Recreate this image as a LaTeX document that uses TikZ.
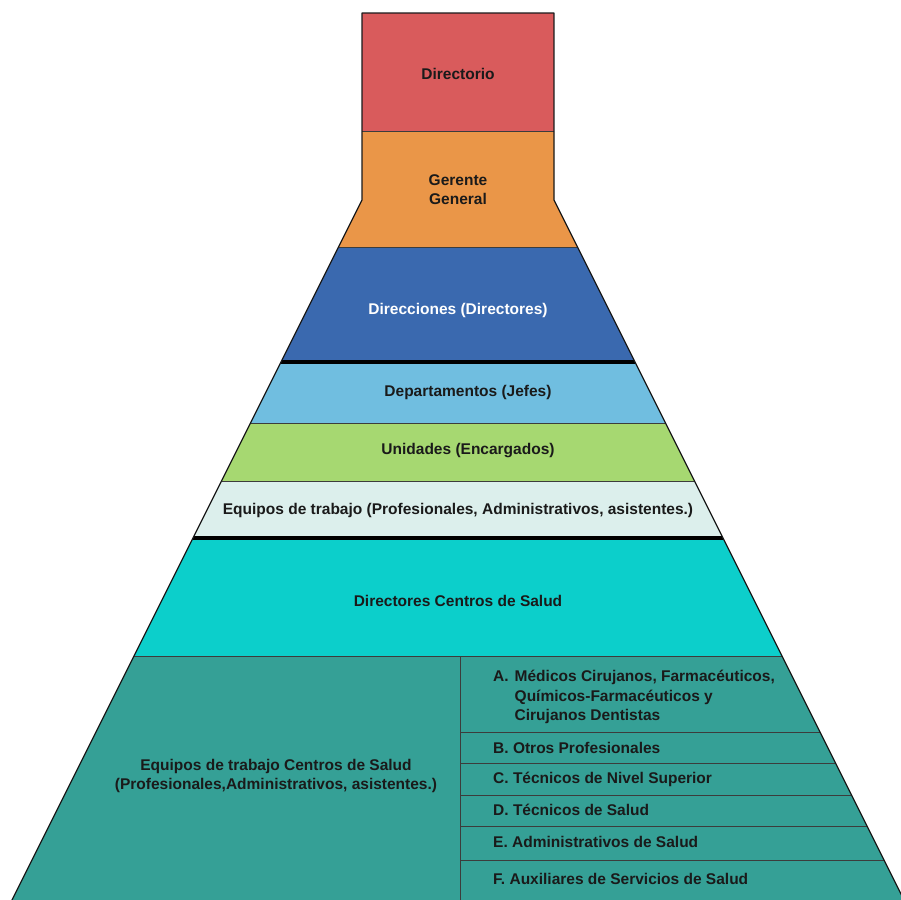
\documentclass[tikz,border=0pt]{standalone}
\usepackage{fontspec}
\setmainfont{Liberation Sans}
\usepackage{tikz}
\usetikzlibrary{calc}
\definecolor{rojo}{HTML}{D95B5C}
\definecolor{naranja}{HTML}{EA9648}
\definecolor{azul}{HTML}{3A69AF}
\definecolor{celeste}{HTML}{70BEE0}
\definecolor{verde}{HTML}{A6D871}
\definecolor{claro}{HTML}{DCEFEC}
\definecolor{turquesa}{HTML}{0CCFCB}
\definecolor{teal}{HTML}{35A096}
\definecolor{ink}{HTML}{1A1A1A}
\tikzset{
  edge/.style={draw=ink, line width=1.3pt, line join=round},
  sep/.style={draw=ink!85, line width=0.9pt},
  bar/.style={draw=black, line width=4pt},
  lab/.style={text=ink, font=\bfseries\fontsize{15.5}{19.5}\selectfont, align=center, inner sep=0pt},
  item/.style={lab, align=left, anchor=west},
}

\begin{document}
\begin{tikzpicture}[x=1pt, y=-1pt]
  \useasboundingbox (0,0) rectangle (901,899);
  \clip (0,0) rectangle (901,899);
  % top block
  \fill[rojo] (362,13) rectangle (554,131);
  \fill[naranja] (362,131) -- (554,131) -- (554,200) -- (577.5,247)
    -- (338.5,247) -- (362,200) -- cycle;
  % pyramid bands (sides: x = 462 - y/2 and x = 454 + y/2)
  \foreach \ya/\yb/\col in {247/362/azul, 362/423/celeste, 423/481/verde,
      481/538/claro, 538/656/turquesa, 656/905/teal}
    \fill[\col] ({462-0.5*\ya},\ya) -- ({454+0.5*\ya},\ya)
      -- ({454+0.5*\yb},\yb) -- ({462-0.5*\yb},\yb) -- cycle;
  % separators
  \draw[sep] (362,131) -- (554,131);
  \foreach \y in {247,423,481,656}
    \draw[sep] ({462-0.5*\y},\y) -- ({454+0.5*\y},\y);
  \foreach \y in {362,538}
    \draw[bar] ({462-0.5*\y},\y) -- ({454+0.5*\y},\y);
  \draw[sep] (460,656) -- (460,905);
  \foreach \y in {732,763,795,826,860}
    \draw[sep] (460,\y) -- ({454+0.5*\y},\y);
  % outline
  \draw[edge] (9.5,905) -- (362,200) -- (362,13) -- (554,13) -- (554,200) -- (906.5,905);
  % labels
  \node[lab] (dir) at (458,74) {Directorio};
  \node[lab] (ger) at (458,189.5) {Gerente\\General};
  \node[lab, text=white] (dirs) at (458,310) {Direcciones (Directores)};
  \node[lab] (dep) at (468,392) {Departamentos (Jefes)};
  \node[lab] (uni) at (468,451) {Unidades (Encargados)};
  \node[lab] (eqt) at (458,510) {Equipos de trabajo (Profesionales, Administrativos, asistentes.)};
  \node[lab] (dcs) at (458,601) {Directores Centros de Salud};
  \node[lab] (ecs) at (276,776) {Equipos de trabajo Centros de Salud\\(Profesionales,Administrativos, asistentes.)};
  \node[item] (ia) at (493,697) {\makebox[21.5pt][l]{A.}Médicos Cirujanos, Farmacéuticos,\\
    \hspace*{21.5pt}Químicos-Farmacéuticos y\\\hspace*{21.5pt}Cirujanos Dentistas};
  \node[item] (ib) at (493,748) {B. Otros Profesionales};
  \node[item] (ic) at (493,779) {C. Técnicos de Nivel Superior};
  \node[item] (id) at (493,810) {D. Técnicos de Salud};
  \node[item] (ie) at (493,842) {E. Administrativos de Salud};
  \node[item] (if) at (493,879) {F. Auxiliares de Servicios de Salud};
\end{tikzpicture}
\end{document}
